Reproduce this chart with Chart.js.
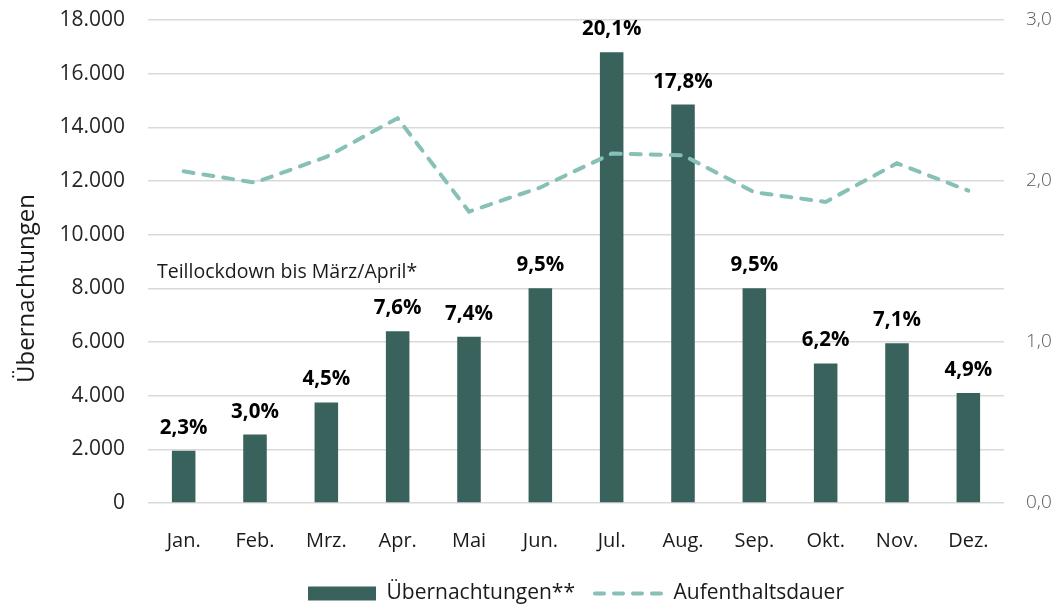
<!DOCTYPE html>
<html>
<head>
<meta charset="utf-8">
<script src="https://cdn.jsdelivr.net/npm/chart.js@4.4.1/dist/chart.umd.min.js"></script>
<style>
  html, body { margin: 0; padding: 0; background: #fff; }
  #chartBox { width: 1061px; height: 604px; }
</style>
</head>
<body>
<div id="chartBox"><canvas id="myChart"></canvas></div>
<script>
  // data
  const months = ['Jan.', 'Feb.', 'Mrz.', 'Apr.', 'Mai', 'Jun.', 'Jul.', 'Aug.', 'Sep.', 'Okt.', 'Nov.', 'Dez.'];
  const uebernachtungen = [1950, 2550, 3750, 6400, 6200, 8000, 16800, 14850, 8000, 5200, 5950, 4100];
  const anteil = [2.3, 3.0, 4.5, 7.6, 7.4, 9.5, 20.1, 17.8, 9.5, 6.2, 7.1, 4.9];
  const aufenthaltsdauer = [2.06, 1.99, 2.15, 2.39, 1.81, 1.96, 2.17, 2.16, 1.93, 1.87, 2.11, 1.94];
  const leftMax = 18000, leftStep = 2000;
  const rightMax = 3, rightStep = 1;
  const noteText = 'Teillockdown bis März/April*';
  const noteValue = 8600;
  const axisTitle = 'Übernachtungen';

  const barColor = '#3a625d';
  const lineColor = '#86c0b6';
  const FONT = 'Open Sans';

  const de0 = v => v.toLocaleString('de-DE');
  const de1 = v => v.toLocaleString('de-DE', {minimumFractionDigits: 1, maximumFractionDigits: 1});

  // labels above bars, note text and rotated axis title
  const extras = {
    id: 'extras',
    afterDatasetsDraw(chart) {
      const ctx = chart.ctx;
      const area = chart.chartArea;
      ctx.save();
      ctx.fillStyle = '#000';
      ctx.font = 'bold 20.5px ' + FONT;
      ctx.textAlign = 'center';
      ctx.textBaseline = 'alphabetic';
      chart.getDatasetMeta(0).data.forEach((bar, i) => {
        ctx.fillText(de1(anteil[i]) + '%', bar.x, bar.y - 17);
      });

      ctx.font = '19.5px ' + FONT;
      ctx.fillStyle = '#1a1a1a';
      ctx.textAlign = 'left';
      ctx.textBaseline = 'middle';
      ctx.fillText(noteText, area.left + 9, chart.scales.y.getPixelForValue(noteValue));

      ctx.translate(27, (area.top + area.bottom) / 2 + 27);
      ctx.rotate(-Math.PI / 2);
      ctx.font = '24px ' + FONT;
      ctx.textAlign = 'center';
      ctx.fillText(axisTitle, 0, 0);
      ctx.restore();
    }
  };

  const data = {
    labels: months,
    datasets: [{
      type: 'bar',
      label: 'Übernachtungen**',
      data: uebernachtungen,
      backgroundColor: barColor,
      yAxisID: 'y',
      categoryPercentage: 1,
      barPercentage: 0.33,
      order: 1
    }, {
      type: 'line',
      label: 'Aufenthaltsdauer',
      data: aufenthaltsdauer,
      borderColor: lineColor,
      backgroundColor: lineColor,
      borderWidth: 4,
      borderDash: [10, 10],
      borderCapStyle: 'round',
      pointRadius: 0,
      tension: 0,
      yAxisID: 'y1',
      order: 0
    }]
  };

  // drop the label overhang chart.js reserves above/below vertical axes
  const noPad = s => { s.paddingTop = 0; s.paddingBottom = 0; };

  const config = {
    data: data,
    options: {
      responsive: true,
      maintainAspectRatio: false,
      animation: false,
      devicePixelRatio: 1,
      layout: { padding: { top: 20, right: 0, bottom: -10, left: 0 } },
      scales: {
        x: {
          grid: { display: false },
          border: { display: false },
          ticks: { font: { family: FONT, size: 20 }, color: '#1a1a1a', padding: 18 },
          afterFit: s => { s.height = 60; }
        },
        y: {
          position: 'left',
          min: 0,
          max: leftMax,
          ticks: {
            stepSize: leftStep,
            callback: v => de0(v),
            font: { family: FONT, size: 21 },
            color: '#262626',
            padding: 23
          },
          grid: { color: '#d9d9d9', lineWidth: 1.5, drawTicks: false },
          border: { display: false },
          afterFit: s => { s.width = 148; noPad(s); }
        },
        y1: {
          position: 'right',
          min: 0,
          max: rightMax,
          ticks: {
            stepSize: rightStep,
            callback: v => de1(v),
            font: { family: FONT, size: 19, weight: 300 },
            color: '#595959',
            padding: 22
          },
          grid: { display: false, drawTicks: false },
          border: { display: false },
          afterFit: s => { s.width = 57; noPad(s); }
        }
      },
      plugins: {
        tooltip: { enabled: false },
        legend: {
          position: 'bottom',
          fullSize: false,
          labels: {
            usePointStyle: true,
            pointStyleWidth: 68,
            boxHeight: 14,
            padding: 20,
            color: '#1a1a1a',
            font: { family: FONT, size: 21 },
            sort: (a, b) => a.datasetIndex - b.datasetIndex,
            generateLabels: chart => {
              const items = Chart.defaults.plugins.legend.labels.generateLabels(chart);
              items.forEach(it => {
                if (it.datasetIndex === 0) {
                  it.pointStyle = 'rect';
                  it.lineWidth = 0;
                } else {
                  it.pointStyle = 'line';
                  it.lineWidth = 4;
                  it.lineDash = [9, 10];
                  it.lineCap = 'round';
                  it.strokeStyle = lineColor;
                }
              });
              return items;
            }
          }
        }
      }
    },
    plugins: [extras]
  };

  const myChart = new Chart(document.getElementById('myChart'), config);
</script>
</body>
</html>
